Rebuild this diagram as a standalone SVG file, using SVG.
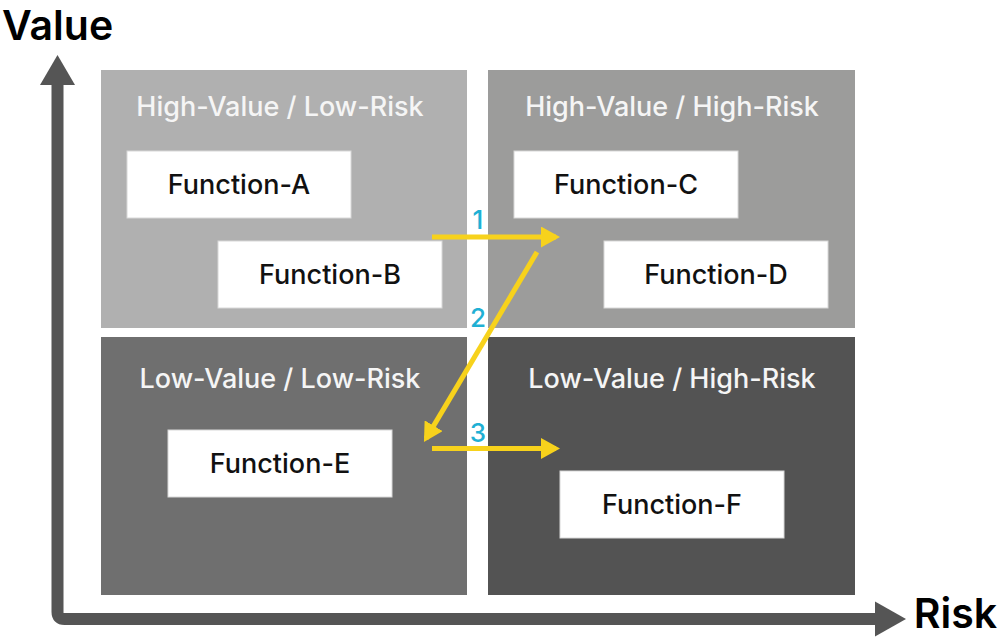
<svg xmlns="http://www.w3.org/2000/svg" width="1006" height="638" viewBox="0 0 1006 638">
<defs>
<style>
.q{font-family:Inter,Roboto,"Liberation Sans",sans-serif;font-weight:500;font-size:27px;fill:#f5f5f5;text-anchor:middle}
.fb{fill:#ffffff;stroke:#d8d8d8;stroke-width:1}
.ft{font-family:Inter,Roboto,"Liberation Sans",sans-serif;font-weight:500;font-size:27px;fill:#111;text-anchor:middle}
.ax{font-family:Inter,Roboto,"Liberation Sans",sans-serif;font-weight:600;font-size:41px;fill:#000}
.num{font-family:Inter,Roboto,"Liberation Sans",sans-serif;font-weight:500;font-size:26px;fill:#1fb0d4;text-anchor:middle}
.conn{stroke:#f7d21c;stroke-width:5;fill:none;marker-end:url(#ya)}
</style>
<marker id="ya" markerWidth="3.8" markerHeight="4.2" refX="3" refY="2.1" orient="auto" markerUnits="strokeWidth" viewBox="0 0 3.8 4.2">
<path d="M0,0 L3.8,2.1 L0,4.2 Z" fill="#f7d21c"/>
</marker>
</defs>
<rect width="1006" height="638" fill="#ffffff"/>
<g id="axes">
<path d="M57.5,84 V612 Q57.5,619 64.5,619 H876" stroke="#555555" stroke-width="12" fill="none"/>
<path d="M40,85 L57.5,55 L75,85 Z" fill="#555555"/>
<path d="M875,601.5 L906,619 L875,636.5 Z" fill="#555555"/>
<text class="ax" x="2" y="40">Value</text>
<text class="ax" x="997" y="628" text-anchor="end">Risk</text>
</g>
<g id="q-hvlr">
<rect x="101" y="70" width="366" height="258" fill="#b0b0b0"/>
<text class="q" x="280" y="116">High-Value / Low-Risk</text>
</g>
<g id="q-hvhr">
<rect x="488" y="70" width="367" height="258" fill="#9c9c9b"/>
<text class="q" x="672" y="116">High-Value / High-Risk</text>
</g>
<g id="q-lvlr">
<rect x="101" y="337" width="366" height="258" fill="#6f6f6f"/>
<text class="q" x="280" y="388">Low-Value / Low-Risk</text>
</g>
<g id="q-lvhr">
<rect x="488" y="337" width="367" height="258" fill="#535353"/>
<text class="q" x="672" y="388">Low-Value / High-Risk</text>
</g>
<g id="fn-a"><rect class="fb" x="127" y="151" width="224" height="67"/><text class="ft" x="239" y="194">Function-A</text></g>
<g id="fn-b"><rect class="fb" x="218" y="241" width="224" height="67"/><text class="ft" x="330" y="284">Function-B</text></g>
<g id="fn-c"><rect class="fb" x="514" y="151" width="224" height="67"/><text class="ft" x="626" y="194">Function-C</text></g>
<g id="fn-d"><rect class="fb" x="604" y="241" width="224" height="67"/><text class="ft" x="716" y="284">Function-D</text></g>
<g id="fn-e"><rect class="fb" x="168" y="430" width="224" height="67"/><text class="ft" x="280" y="473">Function-E</text></g>
<g id="fn-f"><rect class="fb" x="560" y="471" width="224" height="67"/><text class="ft" x="672" y="514">Function-F</text></g>
<g id="connectors">
<line class="conn" x1="432" y1="237" x2="556" y2="237"/>
<line class="conn" x1="537" y1="252" x2="426" y2="438.6"/>
<line class="conn" x1="432" y1="448.5" x2="556" y2="448.5"/>
<text class="num" x="478" y="229">1</text>
<text class="num" x="478" y="327">2</text>
<text class="num" x="478" y="442">3</text>
</g>
</svg>
